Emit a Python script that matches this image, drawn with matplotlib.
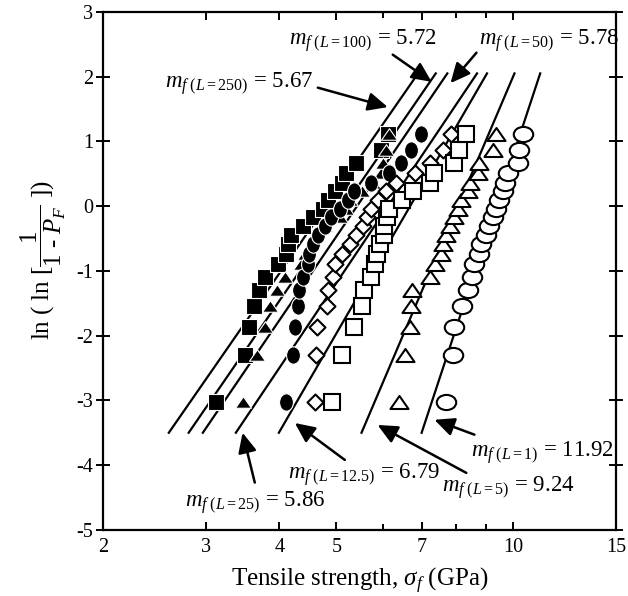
import matplotlib
matplotlib.use('Agg')
from matplotlib import pyplot as plt
from matplotlib.path import Path
from matplotlib.transforms import Affine2D
from matplotlib.ticker import NullFormatter
import numpy as np

plt.rcParams['font.family'] = 'Liberation Serif'
plt.rcParams['mathtext.fontset'] = 'custom'
plt.rcParams['mathtext.rm'] = 'Liberation Serif'
plt.rcParams['mathtext.it'] = 'Liberation Serif:italic'
plt.rcParams['mathtext.bf'] = 'Liberation Serif:bold'
plt.rcParams['axes.unicode_minus'] = False

# Weibull rank positions, ln(ln(1/(1-P_F))), same for every gauge length (20 fibres)
ln_ln = [-3.02, -2.30, -1.87, -1.55, -1.30, -1.09, -0.90, -0.74, -0.58, -0.44,
         -0.30, -0.17, -0.04, 0.09, 0.23, 0.36, 0.51, 0.67, 0.86, 1.11]

# tensile strength (GPa), sorted
sig_L250 = [3.12, 3.50, 3.55, 3.62, 3.69, 3.78, 3.98, 4.11, 4.14, 4.19,
            4.38, 4.56, 4.75, 4.84, 4.97, 5.11, 5.19, 5.41, 5.97, 6.12]
sig_L100 = [3.47, 3.66, 3.78, 3.86, 3.96, 4.08, 4.36, 4.42, 4.53, 4.62,
            4.78, 5.07, 5.20, 5.27, 5.52, 5.77, 5.97, 6.00, 6.08, 6.16]
sig_L50 = [4.10, 4.21, 4.25, 4.30, 4.32, 4.38, 4.47, 4.50, 4.56, 4.65,
           4.78, 4.90, 5.07, 5.23, 5.37, 5.74, 6.16, 6.45, 6.71, 6.98]
sig_L25 = [4.59, 4.62, 4.63, 4.82, 4.84, 4.93, 4.97, 5.11, 5.27, 5.41,
           5.55, 5.65, 5.74, 5.89, 6.08, 6.33, 6.80, 7.21, 7.59, 7.85]
sig_L12 = [4.92, 5.12, 5.37, 5.52, 5.57, 5.74, 5.81, 5.87, 5.93, 6.02,
           6.04, 6.09, 6.16, 6.46, 6.77, 7.21, 7.35, 7.95, 8.11, 8.33]
sig_L5 = [6.39, 6.54, 6.67, 6.71, 6.74, 7.21, 7.38, 7.55, 7.60, 7.70,
          7.80, 7.95, 8.06, 8.17, 8.37, 8.44, 8.71, 8.77, 9.24, 9.37]
sig_L1 = [7.70, 7.90, 7.95, 8.20, 8.37, 8.52, 8.60, 8.75, 8.83, 9.01,
          9.10, 9.24, 9.37, 9.49, 9.61, 9.68, 9.80, 10.19, 10.26, 10.42]

# Weibull moduli and where each fitted line starts (strength at y = -3.5)
gauge = ['250', '100', '50', '25', '12.5', '5', '1']
modulus = [5.67, 5.72, 5.78, 5.86, 6.79, 9.24, 11.92]
line_start = [2.59, 2.80, 2.96, 3.37, 3.99, 5.52, 6.99]
line_y0 = -3.5
line_y1 = 2.05

# marker shapes
tri = Path([(-1, -0.72), (1, -0.72), (0, 0.72), (-1, -0.72)], closed=True)
diamond = Path([(0, 1), (1, 0), (0, -1), (-1, 0), (0, 1)], closed=True)
wide_circ = Affine2D().scale(1.0, 0.78).transform_path(Path.unit_circle())
tall_circ = Affine2D().scale(0.8, 1.0).transform_path(Path.unit_circle())

series = [sig_L250, sig_L100, sig_L50, sig_L25, sig_L12, sig_L5, sig_L1]
mk = ['s', tri, tall_circ, diamond, 's', tri, wide_circ]
ms = [11, 11.5, 12.5, 11.5, 11.5, 13, 14]
filled = [True, True, True, False, False, False, False]

fig = plt.figure(figsize=(6.28, 5.96), dpi=100)
ax = fig.add_axes([0.164, 0.111, 0.817, 0.869])

for i in range(len(series)):
    ys = np.array([line_y0, line_y1])
    xs = line_start[i] * np.exp((ys - line_y0) / modulus[i])
    ax.plot(xs, ys, color='black', lw=1.6, zorder=1)

for i in range(len(series)):
    if filled[i]:
        ax.plot(series[i], ln_ln, ls='none', marker=mk[i], ms=ms[i],
                mfc='black', mec='white', mew=0.8, zorder=2 + i)
    else:
        ax.plot(series[i], ln_ln, ls='none', marker=mk[i], ms=ms[i],
                mfc='white', mec='black', mew=1.5, zorder=2 + i)

ax.set_xscale('log')
ax.set_xlim(2, 15)
ax.set_ylim(-5, 3)
ax.set_xticks([2, 3, 4, 5, 7, 10, 15], labels=['2', '3', '4', '5', '7', '10', '15'])
ax.set_xticks([6, 8, 9], minor=True)
ax.xaxis.set_minor_formatter(NullFormatter())
ax.set_yticks(range(-5, 4))

ax.tick_params(axis='x', which='both', direction='in', top=True, width=1.4,
               labelsize=14.5, pad=6)
ax.tick_params(axis='x', which='major', length=6)
ax.tick_params(axis='x', which='minor', length=4)
ax.tick_params(axis='y', direction='inout', right=True, length=10, width=1.4,
               labelsize=14.5, pad=2)
for sp in ax.spines.values():
    sp.set_linewidth(1.6)

ax.set_xlabel(r'Tensile strength, $\sigma_f$ (GPa)', fontsize=18, labelpad=6)
ax.set_ylabel(r'$\mathrm{ln\ (\ ln\ [}\dfrac{1}{1\ \text{-}\ P_F}\mathrm{\ ])}$',
              fontsize=18)
ax.yaxis.set_label_coords(-0.068, 0.52)

# labels and arrows: text position, arrow tail, arrow head
lab_xy = [(2.55, 1.89), (4.16, 2.55), (8.77, 2.55), (2.76, -4.58),
          (4.13, -4.15), (7.56, -4.35), (8.50, -3.80)]
tail_xy = [(4.65, 1.83), (6.24, 2.34), (8.67, 2.37), (3.63, -4.27),
           (5.17, -3.92), (8.33, -4.12), (8.60, -3.53)]
head_xy = [(6.12, 1.53), (7.27, 1.92), (7.83, 1.90), (3.46, -3.50),
           (4.25, -3.35), (5.88, -3.38), (7.35, -3.30)]

for i in range(len(gauge)):
    txt = r'$m_{f\ (L=%s)}$ = %.2f' % (gauge[i], modulus[i])
    ax.text(lab_xy[i][0], lab_xy[i][1], txt, fontsize=16.5, ha='left', va='center')
    ax.annotate('', xy=head_xy[i], xytext=tail_xy[i],
                arrowprops=dict(arrowstyle='-|>,head_length=0.6,head_width=0.28',
                                mutation_scale=20, lw=1.8, color='black',
                                shrinkA=0, shrinkB=0))

plt.savefig('out.png', dpi=100)
